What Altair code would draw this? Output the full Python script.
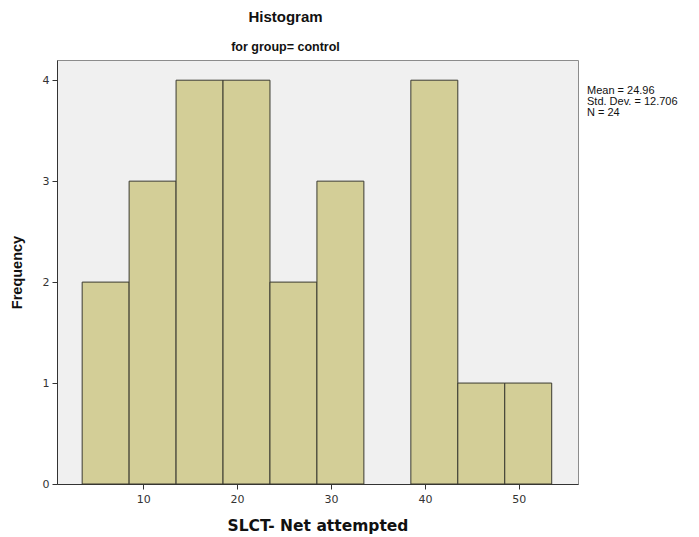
import altair as alt
import pandas as pd

# Histogram bins (width 5) and their frequencies
bin_start = [3.5, 8.5, 13.5, 18.5, 23.5, 28.5, 33.5, 38.5, 43.5, 48.5]
bin_end = [8.5, 13.5, 18.5, 23.5, 28.5, 33.5, 38.5, 43.5, 48.5, 53.5]
frequency = [2, 3, 4, 4, 2, 3, 0, 4, 1, 1]

# Summary statistics shown beside the plot
stat_lines = ["Mean = 24.96", "Std. Dev. = 12.706", "N = 24"]

x_ticks = [10, 20, 30, 40, 50]
y_ticks = [0, 1, 2, 3, 4]

bins = pd.DataFrame({"start": bin_start, "end": bin_end, "freq": frequency})
bins = bins[bins["freq"] > 0]
stats = pd.DataFrame({"line": stat_lines, "row": list(range(len(stat_lines)))})

x_scale = alt.Scale(domain=[0.82, 56.3], nice=False, zero=False)
y_scale = alt.Scale(domain=[0, 4.2], nice=False)

bars = alt.Chart(bins).mark_rect(
    fill="#D3CE97", stroke="#3A3A30", strokeWidth=1
).encode(
    x=alt.X("start:Q", scale=x_scale,
            axis=alt.Axis(values=x_ticks, title="SLCT- Net attempted", grid=False,
                          labelFont="DejaVu Sans", labelFontSize=11, labelColor="#333333",
                          titleFont="DejaVu Sans", titleFontSize=15.5, titleFontWeight="bold",
                          titleColor="#111111", titlePadding=14,
                          domainColor="#333333", tickColor="#333333", tickSize=5,
                          labelPadding=4)),
    x2="end:Q",
    y=alt.Y("freq:Q", scale=y_scale,
            axis=alt.Axis(values=y_ticks, title="Frequency", grid=False,
                          labelFont="DejaVu Sans", labelFontSize=11, labelColor="#333333",
                          titleFont="Liberation Sans", titleFontSize=14.5, titleFontWeight="bold",
                          titleColor="#111111", titlePadding=18, titleY=212,
                          domainColor="#333333", tickColor="#333333", tickSize=5,
                          labelPadding=3)),
    y2=alt.datum(0),
)

stat_text = alt.Chart(stats).mark_text(
    align="left", baseline="middle", font="Liberation Sans", fontSize=11,
    color="#111111", clip=False
).encode(
    x=alt.value(530),
    y=alt.Y("row:Q", scale=alt.Scale(domain=[0, 2], range=[30.5, 52.5]), axis=None),
    text="line:N",
)

chart = alt.layer(bars, stat_text).resolve_scale(y="independent").properties(
    width=521,
    height=424,
    padding={"left": 57, "top": 60, "right": 121, "bottom": 53},
    autosize=alt.AutoSizeParams(type="none"),
    background="white",
    title=alt.TitleParams(
        text="Histogram", subtitle="for group= control",
        font="Liberation Sans", fontSize=15, fontWeight="bold", color="#111111",
        subtitleFont="Liberation Sans", subtitleFontSize=12.5, subtitleFontWeight="bold",
        subtitleColor="#111111", subtitlePadding=16,
        anchor="middle", dx=-32, offset=7,
    ),
).configure_view(
    fill="#F0F0F0", stroke="#8C8C8C", strokeWidth=1
)

chart.save("out.html", embed_options={"renderer": "svg", "actions": False})
